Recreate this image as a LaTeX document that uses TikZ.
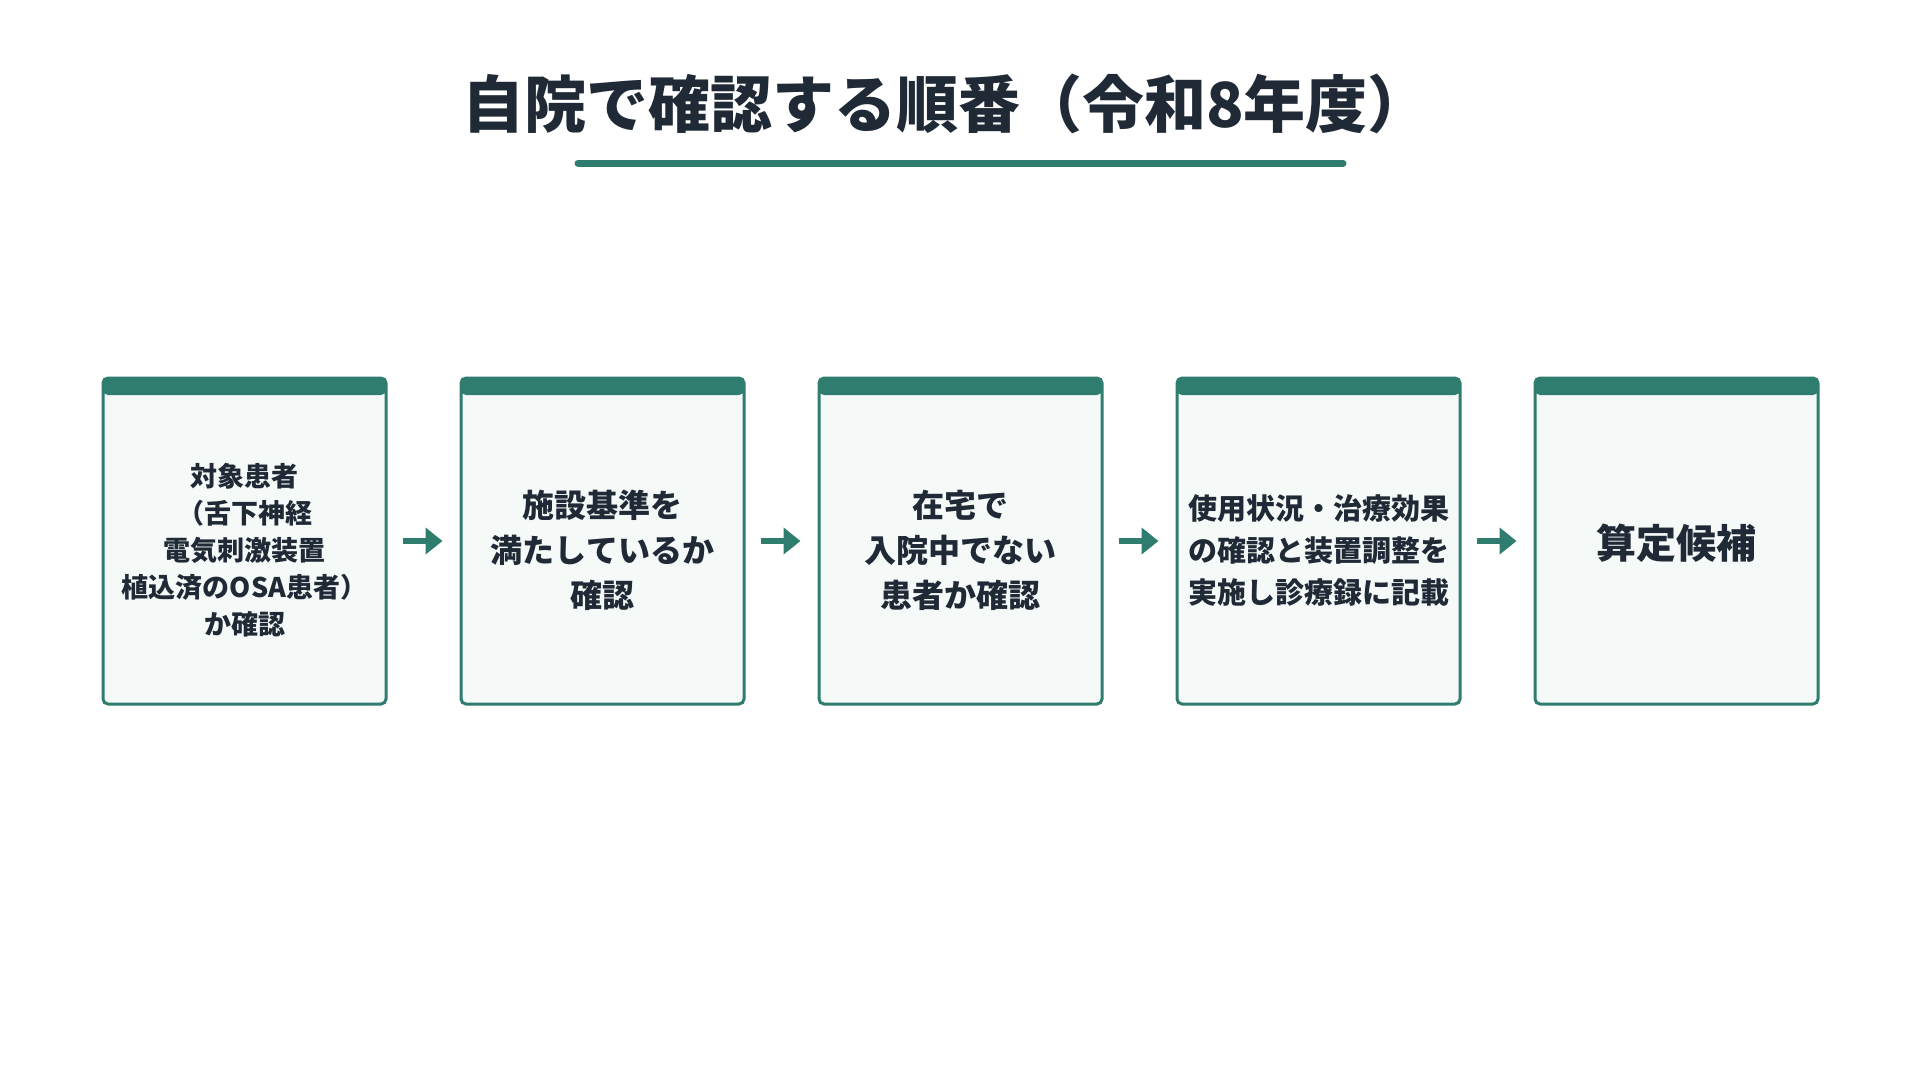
\documentclass[tikz,border=0pt]{standalone}
\usepackage{fontspec}
\setmainfont{Noto Sans CJK JP}[BoldFont={* Black}]
\usepackage{xcolor}
\usetikzlibrary{arrows.meta}
\usetikzlibrary{positioning}
\definecolor{dgreen}{HTML}{2E7D6E}
\definecolor{dtext}{HTML}{1F2A36}
\definecolor{boxfill}{HTML}{F5F9F8}
\tikzstyle{stepbox}=[draw=dgreen,line width=3pt,fill=boxfill,rounded corners=5pt,
  minimum width=283pt,minimum height=326pt,inner sep=0pt,align=center,
  text=dtext,font=\bfseries,
  path picture={\fill[dgreen] (path picture bounding box.north west) rectangle ([yshift=-17pt]path picture bounding box.north east);}]
\tikzstyle{flow}=[line width=6pt,dgreen,-{Triangle[length=17pt,width=26pt]}]
\begin{document}
\begin{tikzpicture}[x=1pt,y=-1pt,node distance=72pt]
\useasboundingbox (0,0) rectangle (1920,1080);
\node[text=dtext,font=\bfseries\fontsize{62}{68}\selectfont] (title) at (946,104) {自院で確認する順番（令和8年度）};
\draw[dgreen,line width=7pt,line cap=round] (578,163) -- (1343,163);
% steps
\node[stepbox,font=\bfseries\fontsize{27}{37}\selectfont] (s1) at (244.5,541) {\\[4pt]対象患者\\（舌下神経\\電気刺激装置\\植込済のOSA患者）\\か確認};
\node[stepbox,right=of s1,font=\bfseries\fontsize{32}{45}\selectfont] (s2) {\\[2pt]施設基準を\\満たしているか\\確認};
\node[stepbox,right=of s2,font=\bfseries\fontsize{32}{45}\selectfont] (s3) {\\[2pt]在宅で\\入院中でない\\患者か確認};
\node[stepbox,right=of s3,font=\bfseries\fontsize{29}{42}\selectfont] (s4) {\\[2pt]使用状況・治療効果\\の確認と装置調整を\\実施し診療録に記載};
\node[stepbox,right=of s4,font=\bfseries\fontsize{40}{45}\selectfont] (s5) {\\[-5pt]算定候補};
\foreach \a/\b in {s1/s2,s2/s3,s3/s4,s4/s5}
  \draw[flow] ([xshift=15pt]\a.east) -- ([xshift=-17pt]\b.west);
\end{tikzpicture}
\end{document}
